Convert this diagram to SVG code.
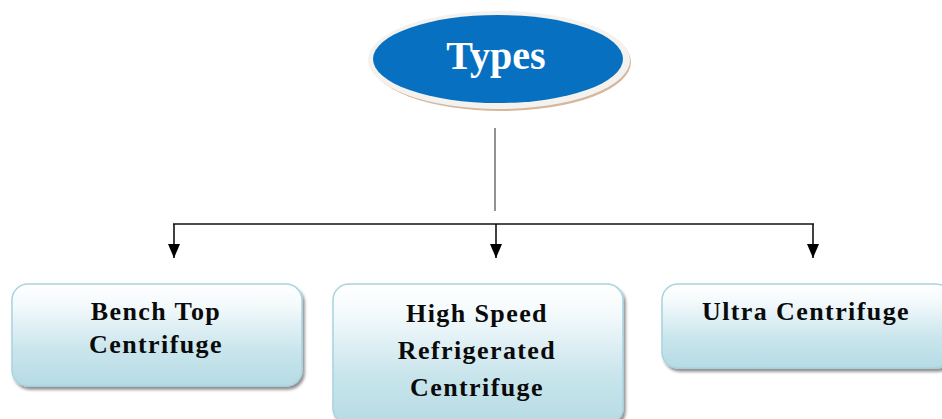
<svg xmlns="http://www.w3.org/2000/svg" width="942" height="419" viewBox="0 0 942 419">
  <style>
    .box { fill: url(#boxFill); stroke: #a8d4df; stroke-width: 1.5; filter: url(#boxShadow); }
    .lbl { font-family: "Liberation Serif", "Times New Roman", serif; font-weight: bold; font-size: 26px; fill: #0a0a0a; text-anchor: middle; letter-spacing: 1.4px; }
    .title { font-family: "Liberation Serif", "Times New Roman", serif; font-weight: bold; font-size: 40px; fill: #ffffff; text-anchor: middle; }
    .wire { fill: none; stroke: #111; stroke-width: 1.6; }
  </style>
  <defs>
    <linearGradient id="boxFill" x1="0" y1="0" x2="0" y2="1">
      <stop offset="0" stop-color="#ffffff"/>
      <stop offset="0.2" stop-color="#f4fafc"/>
      <stop offset="0.65" stop-color="#c9e5ec"/>
      <stop offset="1" stop-color="#b6dbe4"/>
    </linearGradient>
    <filter id="boxShadow" x="-5%" y="-10%" width="112%" height="130%">
      <feGaussianBlur in="SourceAlpha" stdDeviation="1.5"/>
      <feOffset dx="2" dy="3" result="off"/>
      <feComponentTransfer><feFuncA type="linear" slope="0.45"/></feComponentTransfer>
      <feMerge><feMergeNode/><feMergeNode in="SourceGraphic"/></feMerge>
    </filter>
    <marker id="arrow" viewBox="0 0 12 14" refX="6" refY="14" markerWidth="12" markerHeight="14" markerUnits="userSpaceOnUse" orient="0">
      <path d="M0,0 L12,0 L6,14 Z" fill="#000"/>
    </marker>
  </defs>

  <!-- root ellipse -->
  <g id="types">
    <ellipse cx="501" cy="62" rx="130" ry="49" fill="#caa585" opacity="0.8"/>
    <ellipse cx="499" cy="60" rx="131" ry="49" fill="#f4f2ee"/>
    <ellipse cx="498" cy="59" rx="125" ry="44" fill="#0770c1"/>
    <text class="title" x="496" y="69">Types</text>
  </g>

  <!-- connectors -->
  <g id="connectors">
    <line x1="495" y1="128" x2="495" y2="211" stroke="#777" stroke-width="1.6"/>
    <line class="wire" x1="173" y1="224" x2="814" y2="224"/>
    <line class="wire" x1="174" y1="224" x2="174" y2="258" marker-end="url(#arrow)"/>
    <line class="wire" x1="496" y1="224" x2="496" y2="258" marker-end="url(#arrow)"/>
    <line class="wire" x1="813" y1="224" x2="813" y2="258" marker-end="url(#arrow)"/>
  </g>

  <g id="bench-top">
    <rect class="box" x="12" y="284" width="290" height="102" rx="16"/>
    <text class="lbl" x="156" y="320">Bench Top</text>
    <text class="lbl" x="156" y="353">Centrifuge</text>
  </g>

  <g id="high-speed">
    <rect class="box" x="333" y="284" width="290" height="140" rx="16"/>
    <text class="lbl" x="477" y="322">High Speed</text>
    <text class="lbl" x="477" y="359">Refrigerated</text>
    <text class="lbl" x="477" y="396">Centrifuge</text>
  </g>

  <g id="ultra">
    <rect class="box" x="662" y="284" width="290" height="84" rx="16"/>
    <text class="lbl" x="806" y="320">Ultra Centrifuge</text>
  </g>
</svg>
